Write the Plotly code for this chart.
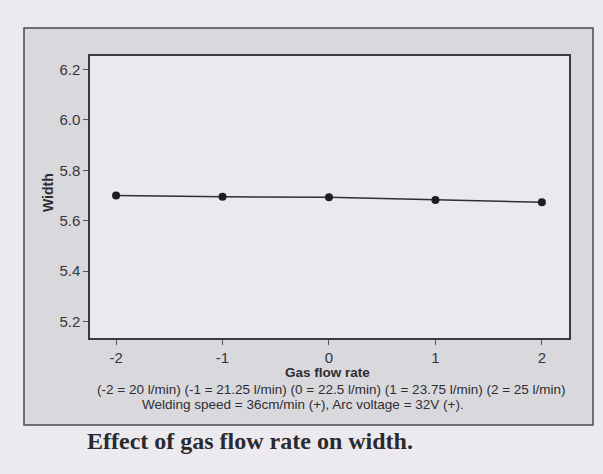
import plotly.graph_objects as go

# Main effect of gas flow rate (coded levels) on bead width
flow_levels = [-2, -1, 0, 1, 2]
width_mean = [5.700, 5.695, 5.693, 5.682, 5.673]

y_ticks = [5.2, 5.4, 5.6, 5.8, 6.0, 6.2]
x_ticks = [-2, -1, 0, 1, 2]

level_note = "(-2 = 20 l/min) (-1 = 21.25 l/min) (0 = 22.5 l/min) (1 = 23.75 l/min) (2 = 25 l/min)"
setting_note = "Welding speed = 36cm/min (+), Arc voltage = 32V (+)."
caption = "Effect of gas flow rate on width."

W, H = 603, 474
ink = "#2e2e33"
font_ui = "Liberation Sans"
PL, PR, PT, PB = 90, 569, 56, 338
PW, PH = PR - PL, PB - PT


def px(x):
    return (x - PL) / PW


def py(y):
    return (PB - y) / PH


fig = go.Figure()
fig.add_trace(go.Scatter(
    x=flow_levels, y=width_mean, mode="lines+markers",
    line=dict(color=ink, width=1.5),
    marker=dict(color="#1e1e22", size=8),
    showlegend=False, hoverinfo="x+y",
))

# grey panel surrounding the plotting region
fig.add_shape(type="rect", xref="paper", yref="paper",
              x0=px(24), x1=px(593), y0=py(425), y1=py(28),
              fillcolor="#d9d8dd", line=dict(color="#4a4a50", width=1.5),
              layer="below")
# light plotting region on top of the panel
fig.add_shape(type="rect", xref="paper", yref="paper",
              x0=0, x1=1, y0=0, y1=1,
              fillcolor="#ebe9ee", line=dict(width=0),
              layer="below")

tickfont = dict(family=font_ui, size=15, color="#36363a")
fig.update_layout(
    width=W, height=H,
    margin=dict(l=PL, r=W - PR, t=PT, b=H - PB),
    paper_bgcolor="#eceaef",
    plot_bgcolor="#ebe9ee",
    font=dict(family=font_ui, color=ink, size=12),
    xaxis=dict(range=[-2.245, 2.255], tickvals=x_ticks,
               ticktext=[str(v) for v in x_ticks],
               ticks="outside", ticklen=5, tickcolor="#555",
               showgrid=False, zeroline=False, showline=True, mirror=True,
               linecolor="#3a3a40", linewidth=1.5, tickfont=tickfont),
    yaxis=dict(range=[5.135, 6.253], tickvals=y_ticks,
               ticktext=[f"{v:.1f}" for v in y_ticks],
               ticks="outside", ticklen=5, tickcolor="#555",
               showgrid=False, zeroline=False, showline=True, mirror=True,
               linecolor="#3a3a40", linewidth=1.5, tickfont=tickfont),
)

ann = [
    dict(text="<b>Width</b>", x=48, y=193, textangle=-90, size=14),
    dict(text="<b>Gas flow rate</b>", x=327, y=372, size=13.5),
    dict(text=level_note, x=331.5, y=389, size=13.5),
    dict(text=setting_note, x=302.5, y=404, size=13.5),
]
for a in ann:
    fig.add_annotation(
        text=a["text"], xref="paper", yref="paper",
        x=px(a["x"]), y=py(a["y"]),
        showarrow=False, textangle=a.get("textangle", 0),
        xanchor="center", yanchor="middle",
        font=dict(family=font_ui, size=a["size"], color=ink),
    )

fig.add_annotation(
    text="<b>" + caption + "</b>", xref="paper", yref="paper",
    x=px(85), y=py(441), xanchor="left", yanchor="middle",
    showarrow=False,
    font=dict(family="Liberation Serif", size=24, color="#2a2a2e"),
)

fig.write_html("out.html")
